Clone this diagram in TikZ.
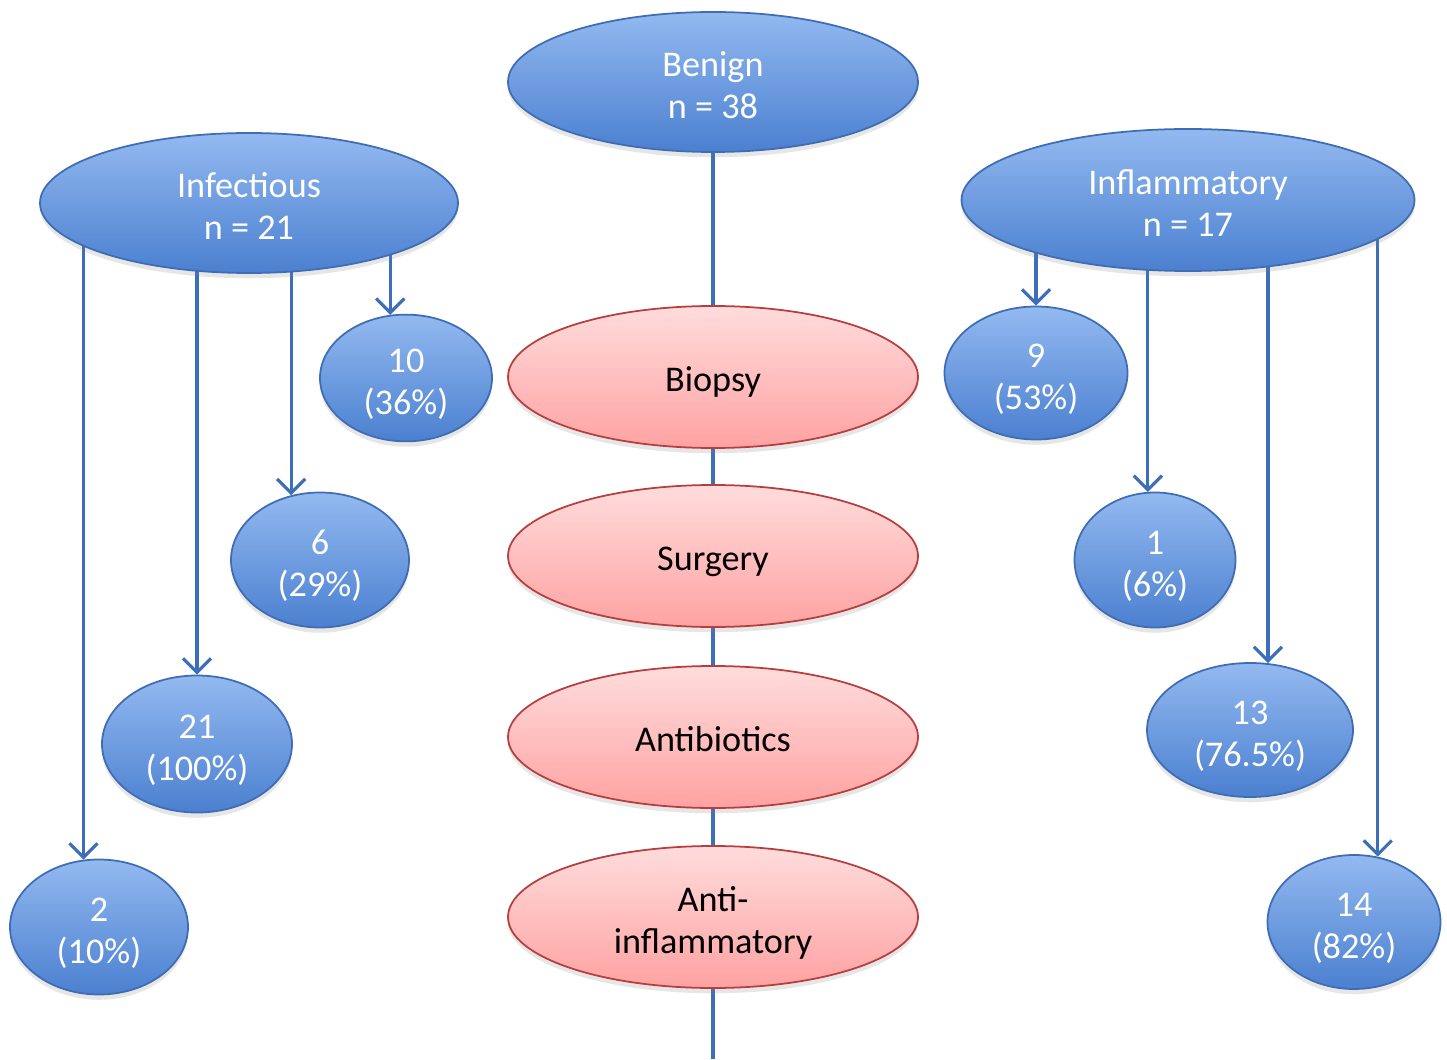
\documentclass[tikz,border=0pt]{standalone}
\usepackage{fontspec}
\setmainfont{Carlito}
\usepackage{tikz}
\usetikzlibrary{shapes.geometric,arrows.meta,backgrounds,shadows}
\definecolor{blueline}{HTML}{3D6EB9}
\definecolor{bluetop}{HTML}{93B9F0}
\definecolor{bluebot}{HTML}{4B80D0}
\definecolor{blueedge}{HTML}{3F6DB3}
\definecolor{pinktop}{HTML}{FFDCDC}
\definecolor{pinkbot}{HTML}{FFA2A2}
\definecolor{pinkedge}{HTML}{B83D3D}
\tikzset{
    ovaltext/.style = {align=center, inner sep=0pt, font=\fontsize{10.3}{11.7}\selectfont,
        execute at begin node={\rule{0pt}{10.9pt}}, execute at end node={\rule[-2.5pt]{0pt}{2.5pt}}},
    twoline/.style = {execute at begin node={\rule{0pt}{23pt}}},
    bluebox/.style = {ellipse, ovaltext, twoline, draw=blueedge, line width=0.5pt, top color=bluetop, bottom color=bluebot,
        text=white, drop shadow={opacity=0.2, shadow xshift=0pt, shadow yshift=-1.5pt}},
    pinkbox/.style = {ellipse, ovaltext, draw=pinkedge, line width=0.5pt, top color=pinktop, bottom color=pinkbot,
        text=black, minimum width=4.10cm, minimum height=1.42cm,
        drop shadow={opacity=0.2, shadow xshift=0pt, shadow yshift=-1.5pt}},
    link/.style = {draw=blueline, line width=0.9pt},
    arr/.style = {link, -{Straight Barb[length=4pt,width=8pt]}}
}

\begin{document}
\begin{tikzpicture}
    \useasboundingbox (0,0) rectangle (14.47,10.59);

    % top row
    \node[bluebox, minimum width=4.10cm, minimum height=1.40cm] (benign) at (7.13,9.77) {Benign\\n = 38};
    \node[bluebox, minimum width=4.18cm, minimum height=1.40cm] (infect) at (2.49,8.56) {Infectious\\n = 21};
    \node[bluebox, minimum width=4.53cm, minimum height=1.42cm] (inflam) at (11.88,8.59) {Inflammatory\\n = 17};

    % treatments
    \node[pinkbox] (biopsy) at (7.13,6.82) {Biopsy};
    \node[pinkbox] (surgery) at (7.13,5.03) {Surgery};
    \node[pinkbox] (antibio) at (7.13,3.22) {Antibiotics};
    \node[pinkbox, twoline] (antiinf) at (7.13,1.42) {Anti-\\inflammatory};
    \coordinate (bottom) at (7.13,0);

    % infectious counts
    \node[bluebox, minimum width=1.72cm, minimum height=1.25cm] (i10) at (4.06,6.81) {10\\(36\%)};
    \node[bluebox, minimum width=1.78cm, minimum height=1.35cm] (i6) at (3.20,4.99) {6\\(29\%)};
    \node[bluebox, minimum width=1.90cm, minimum height=1.37cm] (i21) at (1.97,3.15) {21\\(100\%)};
    \node[bluebox, minimum width=1.78cm, minimum height=1.35cm] (i2) at (0.99,1.32) {2\\(10\%)};

    % inflammatory counts
    \node[bluebox, minimum width=1.83cm, minimum height=1.33cm] (f9) at (10.36,6.86) {9\\(53\%)};
    \node[bluebox, minimum width=1.61cm, minimum height=1.35cm] (f1) at (11.55,4.99) {1\\(6\%)};
    \node[bluebox, minimum width=2.06cm, minimum height=1.34cm] (f13) at (12.50,3.29) {13\\(76.5\%)};
    \node[bluebox, minimum width=1.73cm, minimum height=1.34cm] (f14) at (13.54,1.37) {14\\(82\%)};

    \begin{scope}[on background layer]
        % spine
        \draw[link] (benign) -- (biopsy);
        \draw[link] (biopsy) -- (surgery);
        \draw[link] (surgery) -- (antibio);
        \draw[link] (antibio) -- (antiinf);
        \draw[link] (antiinf) -- (bottom);

        % arrows
        \draw[arr] (infect.center -| i10.104) -- (i10.104);
        \draw[arr] (infect.center -| i6.114) -- (i6.114);
        \draw[arr] (infect.center -| i21.north) -- (i21.north);
        \draw[arr] (infect.center -| i2.103) -- (i2.103);

        \draw[arr] (inflam.center -| f9.north) -- (f9.north);
        \draw[arr] (inflam.center -| f1.96) -- (f1.96);
        \draw[arr] (inflam.center -| f13.75) -- (f13.75);
        \draw[arr] (inflam.center -| f14.70) -- (f14.70);
    \end{scope}
\end{tikzpicture}
\end{document}
